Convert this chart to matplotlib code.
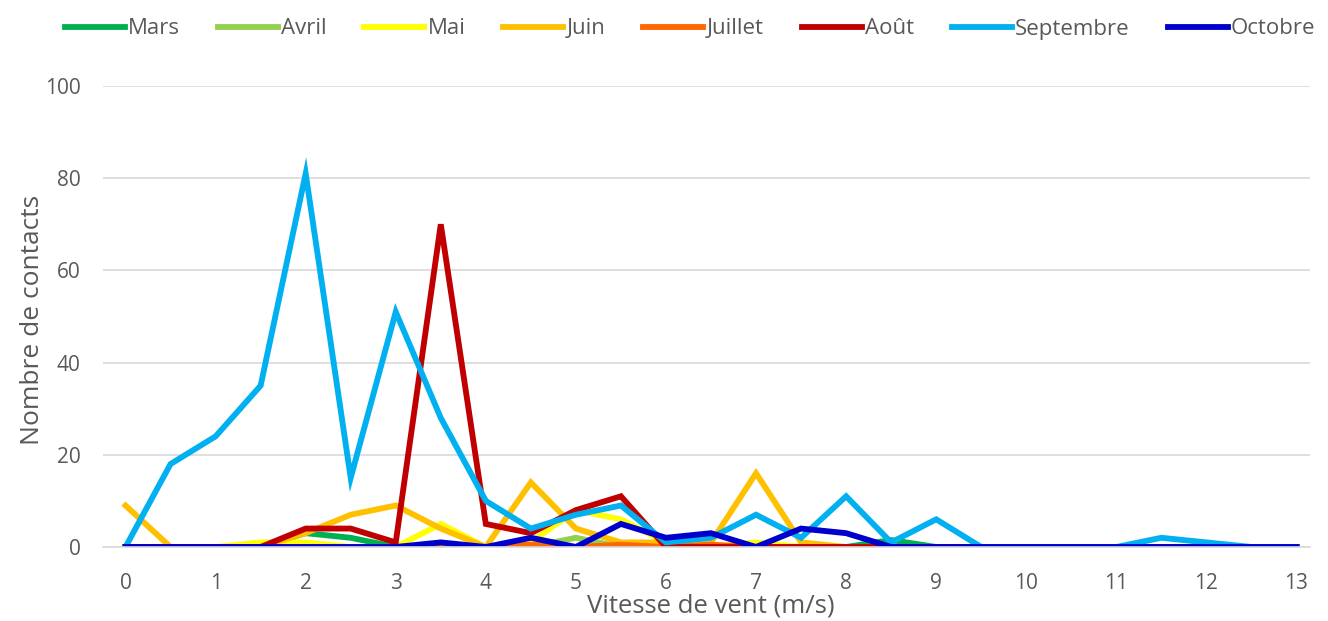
import matplotlib
matplotlib.use("Agg")
import matplotlib.pyplot as plt
import numpy as np

plt.rcParams['font.family'] = ['Open Sans', 'DejaVu Sans']

vitesse = [0, 0.5, 1, 1.5, 2, 2.5, 3, 3.5, 4, 4.5, 5, 5.5, 6, 6.5, 7, 7.5, 8, 8.5, 9,
           9.5, 10, 10.5, 11, 11.5, 12, 12.5, 13]

mars      = [0, 0, 0, 0, 3, 2, 0, 0, 0, 0, 0, 0, 0, 0, 0, 0, 0, 1.5, 0, 0, 0, 0, 0, 0, 0, 0, 0]
avril     = [0, 0, 0, 0, 0, 0, 0, 0, 0, 0, 2, 0, 0, 0, 0, 0, 0, 0, 0, 0, 0, 0, 0, 0, 0, 0, 0]
mai       = [0, 0, 0, 1, 1, 0, 0, 5, 0, 1, 8, 6, 1, 0, 1, 0, 0, 0, 0, 0, 0, 0, 0, 0, 0, 0, 0]
juin      = [9, 0, 0, 0, 3, 7, 9, 4, 0, 14, 4, 1, 1, 1, 16, 1, 0, 0, 0, 0, 0, 0, 0, 0, 0, 0, 0]
juillet   = [0, 0, 0, 0, 0, 0, 0, 0, 0, 0.5, 0, 0.5, 0, 0.5, 0, 0, 0, 0, 0, 0, 0, 0, 0, 0, 0, 0, 0]
aout      = [0, 0, 0, 0, 4, 4, 1, 70, 5, 3, 8, 11, 0, 0, 0, 0, 0, 0, 0, 0, 0, 0, 0, 0, 0, 0, 0]
septembre = [0, 18, 24, 35, 81, 15, 51, 28, 10, 4, 7, 9, 1, 2, 7, 2, 11, 1, 6, 0, 0, 0, 0, 2, 1, 0, 0]
octobre   = [0, 0, 0, 0, 0, 0, 0, 1, 0, 2, 0, 5, 2, 3, 0, 4, 3, 0, 0, 0, 0, 0, 0, 0, 0, 0, 0]

series = [
    ("Mars", mars, "#00B050"),
    ("Avril", avril, "#92D050"),
    ("Mai", mai, "#FFFF00"),
    ("Juin", juin, "#FFC000"),
    ("Juillet", juillet, "#FF6600"),
    ("Août", aout, "#C00000"),
    ("Septembre", septembre, "#00B0F0"),
    ("Octobre", octobre, "#0000CC"),
]

W, H = 1328, 621
fig = plt.figure(figsize=(W / 100, H / 100), dpi=100)
ax = fig.add_axes([103 / W, 1 - 547 / H, (1310 - 103) / W, (547 - 86) / H])

for name, vals, col in series:
    ax.plot(vitesse, vals, color=col, lw=4.2, label=name, solid_joinstyle='miter')

ax.set_xlim(-0.25, 13.15)
ax.set_ylim(0, 100)
ax.set_yticks([0, 20, 40, 60, 80, 100])
ax.set_xticks(range(0, 14))
ax.grid(axis='y', color='#D9D9D9', lw=1.2)
ax.set_axisbelow(True)
for s in ['top', 'right', 'left']:
    ax.spines[s].set_visible(False)
ax.spines['bottom'].set_color('#D9D9D9')
ax.spines['bottom'].set_linewidth(1.2)
ax.tick_params(axis='both', length=0, labelsize=15, colors='#595959')
ax.tick_params(axis='x', pad=19)
ax.tick_params(axis='y', pad=16)

fig.text(711 / W, 1 - 606 / H, "Vitesse de vent (m/s)", fontsize=18.5, color='#595959',
         ha='center', va='center')
fig.text(33 / W, 1 - 320 / H, "Nombre de contacts", fontsize=19, color='#595959',
         ha='center', va='center', rotation=90)

fig.legend(loc='center', bbox_to_anchor=(690 / W, 1 - 29 / H), ncol=8, frameon=False,
           fontsize=16, handlelength=2.7, handletextpad=0.15, columnspacing=1.7,
           labelcolor='#595959', borderaxespad=0, borderpad=0)

fig.savefig("out.png", dpi=100)
